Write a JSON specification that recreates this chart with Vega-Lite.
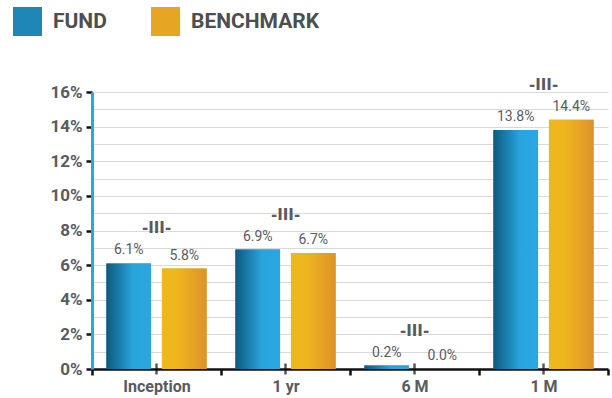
{
  "$schema": "https://vega.github.io/schema/vega-lite/v6.json",
  "width": 516,
  "height": 277,
  "autosize": {"type": "none"},
  "padding": {"left": 92, "top": 92, "right": 4, "bottom": 29},
  "background": "white",
  "config": {
    "view": {"stroke": null},
    "font": "Roboto, sans-serif"
  },
  "data": {
    "values": [
      {"period": "Inception", "series": "FUND", "value": 6.1},
      {"period": "Inception", "series": "BENCHMARK", "value": 5.8},
      {"period": "1 yr", "series": "FUND", "value": 6.9},
      {"period": "1 yr", "series": "BENCHMARK", "value": 6.7},
      {"period": "6 M", "series": "FUND", "value": 0.2},
      {"period": "6 M", "series": "BENCHMARK", "value": 0.0},
      {"period": "1 M", "series": "FUND", "value": 13.8},
      {"period": "1 M", "series": "BENCHMARK", "value": 14.4}
    ]
  },
  "encoding": {
    "x": {
      "field": "period",
      "type": "nominal",
      "sort": ["Inception", "1 yr", "6 M", "1 M"],
      "scale": {"paddingInner": 0, "paddingOuter": 0},
      "axis": {
        "title": null,
        "labelAngle": 0,
        "domainColor": "#111111",
        "domainWidth": 2.5,
        "tickBand": "extent",
        "tickColor": "#111111",
        "tickWidth": 2.5,
        "tickSize": 6,
        "labelPadding": 3,
        "labelFontSize": 16,
        "labelFontWeight": "bold",
        "labelColor": "#5a5b5d"
      }
    },
    "xOffset": {
      "field": "series",
      "type": "nominal",
      "sort": ["FUND", "BENCHMARK"],
      "scale": {"domain": ["FUND", "BENCHMARK"], "paddingInner": 0.196, "paddingOuter": 0.259}
    },
    "y": {
      "field": "value",
      "type": "quantitative",
      "scale": {"domain": [0, 16], "nice": false},
      "axis": {
        "title": null,
        "values": [0,1,2,3,4,5,6,7,8,9,10,11,12,13,14,15,16],
        "labelExpr": "datum.value % 2 === 0 ? datum.value + '%' : ''",
        "labelOverlap": false,
        "grid": true,
        "gridColor": "#d9d9d9",
        "gridWidth": 1.2,
        "domainColor": "#29a8e0",
        "domainWidth": 3,
        "tickColor": "#111111",
        "tickWidth": 2.5,
        "tickSize": 6,
        "tickOpacity": {"condition": {"test": "datum.value % 2 === 1", "value": 0}, "value": 1},
        "labelPadding": 4,
        "labelFontSize": 17,
        "labelFontWeight": "bold",
        "labelColor": "#5a5b5d"
      }
    }
  },
  "layer": [
    {
      "mark": {"type": "bar"},
      "encoding": {
        "color": {
          "field": "series",
          "type": "nominal",
          "sort": ["FUND", "BENCHMARK"],
          "scale": {"domain": ["FUND", "BENCHMARK"], "range": ["#1f86b8", "#e6a523"]},
          "legend": {
            "title": null,
            "orient": "none",
            "legendX": -79,
            "legendY": -85,
            "direction": "horizontal",
            "symbolType": "square",
            "symbolSize": 840,
            "symbolStrokeWidth": 0,
            "labelFontSize": 21,
            "labelFontWeight": "bold",
            "labelColor": "#4d4e50",
            "labelOffset": 11,
            "columnPadding": 44,
            "encode": {
              "symbols": {
                "update": {
                  "fill": {"signal": "datum.value === 'FUND' ? {gradient: 'linear', x1: 0, y1: 0, x2: 1, y2: 0, stops: [{offset: 0, color: '#0c5a7e'}, {offset: 1, color: '#2aa7e0'}]} : {gradient: 'linear', x1: 1, y1: 0, x2: 0, y2: 1, stops: [{offset: 0, color: '#f2bb1a'}, {offset: 1, color: '#dc9329'}]}"}
                }
              }
            }
          }
        }
      }
    },
    {
      "transform": [{"filter": "datum.series === 'FUND'"}],
      "mark": {
        "type": "bar",
        "color": {"gradient": "linear", "x1": 0, "y1": 0, "x2": 1, "y2": 0,
          "stops": [{"offset": 0, "color": "#0c5a7e"}, {"offset": 0.6, "color": "#29a5de"}, {"offset": 1, "color": "#2aa7e0"}]}
      }
    },
    {
      "transform": [{"filter": "datum.series === 'BENCHMARK'"}],
      "mark": {
        "type": "bar",
        "color": {"gradient": "linear", "x1": 0, "y1": 0, "x2": 1, "y2": 0,
          "stops": [{"offset": 0, "color": "#f0b71c"}, {"offset": 0.35, "color": "#efb51e"}, {"offset": 1, "color": "#dc9329"}]}
      }
    },
    {
      "transform": [{"calculate": "format(datum.value, '.1f') + '%'", "as": "label"}],
      "mark": {"type": "text", "baseline": "alphabetic", "dy": -9, "fontSize": 14, "color": "#5a5b5d"},
      "encoding": {
        "text": {"field": "label", "type": "nominal"}
      }
    },
    {
      "transform": [
        {"joinaggregate": [{"op": "max", "field": "value", "as": "maxv"}], "groupby": ["period"]},
        {"filter": "datum.value === datum.maxv"}
      ],
      "mark": {"type": "text", "text": "-III-", "font": "DejaVu Sans", "baseline": "middle", "dy": -35, "fontSize": 15, "fontWeight": "bold", "color": "#5a5b5d"},
      "encoding": {
        "xOffset": null
      }
    },
    {
      "transform": [{"filter": "datum.series === 'FUND'"}],
      "mark": {"type": "tick", "orient": "vertical", "size": 11, "thickness": 2.5, "color": "#111111", "yOffset": 0},
      "encoding": {
        "xOffset": null,
        "y": {
          "datum": 0,
          "type": "quantitative",
          "scale": {"domain": [0, 16], "nice": false},
          "axis": {
            "title": null,
            "values": [0,1,2,3,4,5,6,7,8,9,10,11,12,13,14,15,16],
            "labelExpr": "datum.value % 2 === 0 ? datum.value + '%' : ''",
            "labelOverlap": false,
            "grid": true,
            "gridColor": "#d9d9d9",
            "gridWidth": 1.2,
            "domainColor": "#29a8e0",
            "domainWidth": 3,
            "tickColor": "#111111",
            "tickWidth": 2.5,
            "tickSize": 6,
            "tickOpacity": {"condition": {"test": "datum.value % 2 === 1", "value": 0}, "value": 1},
            "labelPadding": 4,
            "labelFontSize": 17,
            "labelFontWeight": "bold",
            "labelColor": "#5a5b5d"
          }
        }
      }
    }
  ]
}
